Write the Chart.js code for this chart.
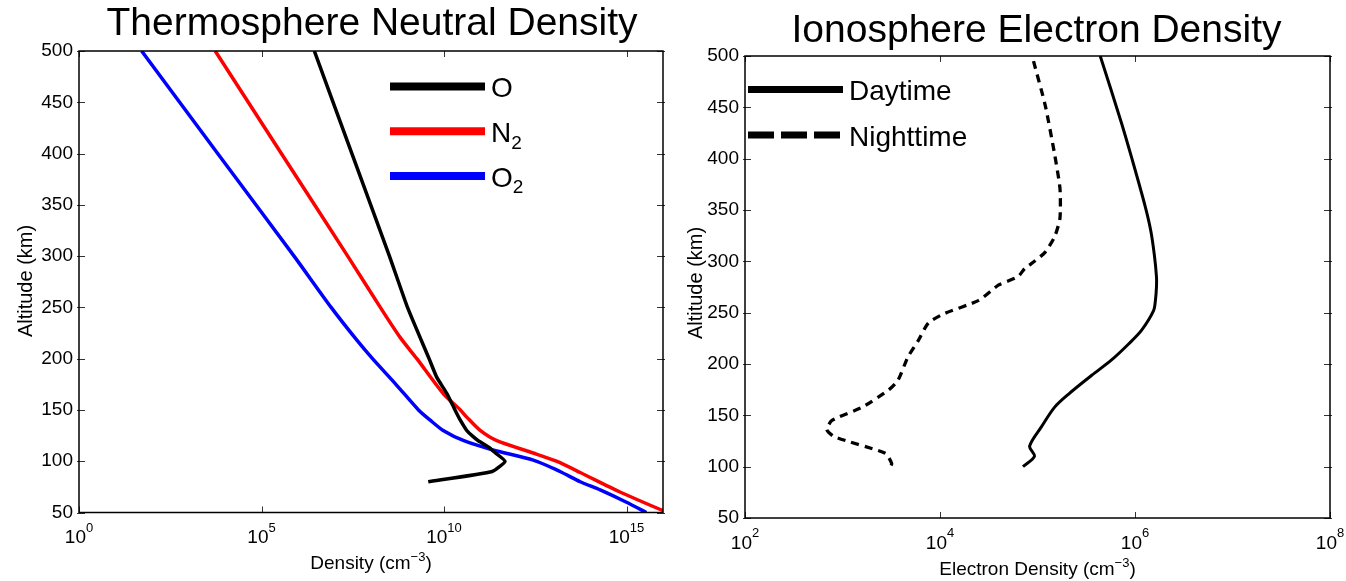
<!DOCTYPE html>
<html>
<head>
<meta charset="utf-8">
<script src="https://cdn.jsdelivr.net/npm/chart.js@4/dist/chart.umd.min.js"></script>
<style>
    body { margin: 0; background: #fff; }
    #wrap { position: relative; width: 1346px; height: 581px; }
    canvas { position: absolute; top: 0; }
</style>
</head>
<body>
<div id="wrap">
    <canvas id="neutralChart" width="673" height="581" style="left:0"></canvas>
    <canvas id="electronChart" width="673" height="581" style="left:673px"></canvas>
</div>
<script>
// thermosphere neutral density (cm^-3) vs altitude (km)
const oAltitude  = [500, 400, 300, 250, 200, 182, 166, 150, 140, 130, 124, 120, 113, 110, 100, 90, 80];
const oDensity   = [2.8e6, 3.0e7, 3.2e8, 1.0e9, 3.9e9, 6.3e9, 1.2e10, 2.0e10, 2.8e10, 4.2e10, 6.3e10, 8.7e10, 1.8e11, 2.2e11, 4.7e11, 2.1e11, 3.7e9];
const n2Altitude = [500, 400, 300, 250, 221, 200, 166, 150, 143, 130, 120, 108, 100, 89, 70, 50];
const n2Density  = [5.4e3, 3.5e5, 2.3e7, 1.8e8, 6.2e8, 1.8e9, 9.5e9, 2.8e10, 4.2e10, 9.8e10, 2.8e11, 2.8e12, 1.2e13, 5.4e13, 6.6e14, 1.3e16];
const o2Altitude = [500, 400, 300, 250, 218, 200, 175, 150, 140, 130, 120, 111, 101, 90, 80, 72, 60, 50];
const o2Density  = [52, 6.3e3, 7.8e5, 8.1e6, 4.1e7, 1.1e8, 4.8e8, 2.0e9, 4.2e9, 9.5e9, 3.5e10, 2.2e11, 2.8e12, 1.5e13, 5.4e13, 1.9e14, 1.0e15, 3.5e15];

// ionosphere electron density (cm^-3) vs altitude (km)
const dayAltitude   = [500, 436, 400, 355, 330, 306, 285, 275, 262, 252, 233, 220, 204, 189, 171, 158, 139, 120, 110, 100];
const dayDensity    = [4.4e5, 7.2e5, 9.3e5, 1.26e6, 1.45e6, 1.58e6, 1.66e6, 1.66e6, 1.62e6, 1.55e6, 1.17e6, 8.7e5, 5.75e5, 3.6e5, 2.1e5, 1.5e5, 1.1e5, 8.3e4, 9.3e4, 7.1e4];
const nightAltitude = [495, 452, 404, 371, 342, 324, 309, 300, 293, 285, 277, 262, 249, 240, 223, 207, 184, 175, 158, 145, 136, 129, 113, 103, 100];
const nightDensity  = [9.1e4, 1.2e5, 1.5e5, 1.7e5, 1.7e5, 1.5e5, 1.2e5, 9.3e4, 7.4e4, 6.3e4, 4.0e4, 2.5e4, 1.1e4, 7.6e3, 6.0e3, 4.7e3, 3.7e3, 3.0e3, 1.6e3, 780, 690, 830, 2.75e3, 3.2e3, 3.1e3];

const altitudeTicks        = [50, 100, 150, 200, 250, 300, 350, 400, 450, 500];
const neutralDensityTicks  = [1e0, 1e5, 1e10, 1e15];
const electronDensityTicks = [1e2, 1e4, 1e6, 1e8];

const FONT = '"Liberation Sans", Arial, Helvetica, sans-serif';

function toPoints(alts, dens) {
    return alts.map((a, i) => ({x: dens[i], y: a}));
}

// text with ^{..} and _{..} parts
function richText(ctx, text, x, y, size, align, supShift) {
    let parts = [];
    let re = /(\^|_)\{([^}]*)\}/g;
    let last = 0, m;
    while ((m = re.exec(text))) {
        if (m.index > last) parts.push({t: text.slice(last, m.index), k: ''});
        parts.push({t: m[2], k: m[1]});
        last = re.lastIndex;
    }
    if (last < text.length) parts.push({t: text.slice(last), k: ''});

    let small = Math.round(size * 0.68);
    let width = 0;
    parts.forEach(p => {
        ctx.font = (p.k ? small : size) + 'px ' + FONT;
        p.w = ctx.measureText(p.t).width;
        width += p.w;
    });
    let cx = align === 'center' ? x - width / 2 : (align === 'right' ? x - width : x);
    ctx.textAlign    = 'left';
    ctx.textBaseline = 'alphabetic';
    parts.forEach(p => {
        ctx.font = (p.k ? small : size) + 'px ' + FONT;
        let dy = p.k === '^' ? -size * supShift : (p.k === '_' ? size * 0.24 : 0);
        ctx.fillText(p.t, cx, y + dy);
        cx += p.w;
    });
}

function axesPlugin(cfg) {
    return {
        id: 'matlabAxes',
        afterDraw(chart) {
            const ctx  = chart.ctx;
            const area = chart.chartArea;
            const xs   = chart.scales.x;
            const ys   = chart.scales.y;
            ctx.save();
            ctx.fillStyle = '#000';

            // tick marks
            ctx.strokeStyle = '#333';
            ctx.lineWidth   = 1;
            ctx.beginPath();
            cfg.xTicks.forEach(v => {
                let px = Math.round(xs.getPixelForValue(v)) + 0.5;
                ctx.moveTo(px, area.bottom); ctx.lineTo(px, area.bottom - 6);
                ctx.moveTo(px, area.top);    ctx.lineTo(px, area.top + 6);
            });
            altitudeTicks.forEach(v => {
                let py = Math.round(ys.getPixelForValue(v)) + 0.5;
                ctx.moveTo(area.left - 2, py);  ctx.lineTo(area.left + 6, py);
                ctx.moveTo(area.right + 2, py); ctx.lineTo(area.right - 6, py);
            });
            ctx.stroke();

            // box
            ctx.strokeStyle = '#000';
            ctx.lineWidth   = 1.5;
            ctx.strokeRect(area.left, area.top, area.right - area.left, area.bottom - area.top);

            // tick labels
            ctx.font         = '19px ' + FONT;
            ctx.textAlign    = 'right';
            ctx.textBaseline = 'middle';
            altitudeTicks.forEach(v => {
                ctx.fillText(String(v), area.left - 6, ys.getPixelForValue(v));
            });
            cfg.xTicks.forEach(v => {
                let exp = Math.round(Math.log10(v));
                richText(ctx, '10^{' + exp + '}', xs.getPixelForValue(v), area.bottom + 30.5, 19, 'center', 0.6);
            });

            // titles
            let midX = (area.left + area.right) / 2;
            richText(ctx, cfg.title, midX + cfg.titleDx, cfg.titleY, 39, 'center', 0.45);
            richText(ctx, cfg.xTitle, midX, cfg.xTitleY, 19, 'center', 0.42);
            ctx.save();
            ctx.translate(cfg.yTitleX, cfg.yTitleY);
            ctx.rotate(-Math.PI / 2);
            richText(ctx, 'Altitude (km)', 0, 0, 20, 'center', 0.42);
            ctx.restore();

            // legend
            let lg = cfg.legend;
            chart.data.datasets.forEach((ds, i) => {
                let y = lg.y + i * lg.dy;
                ctx.strokeStyle = ds.borderColor;
                ctx.lineWidth   = lg.lineWidth;
                ctx.setLineDash(ds.borderDash && ds.borderDash.length ? lg.dash : []);
                ctx.beginPath();
                ctx.moveTo(lg.x1, y);
                ctx.lineTo(lg.x2, y);
                ctx.stroke();
                ctx.setLineDash([]);
                richText(ctx, ds.label, lg.textX, y + 10.5, 28, 'left', 0.45);
            });
            ctx.restore();
        }
    };
}

function buildChart(id, datasets, xMin, xMax, padding, cfg) {
    return new Chart(document.getElementById(id), {
        type: 'line',
        data: {datasets: datasets},
        options: {
            responsive: false,
            animation : false,
            layout    : {padding: padding},
            elements  : {point: {radius: 0}, line: {tension: 0, borderCapStyle: 'butt'}},
            scales    : {
                x: {type: 'logarithmic', min: xMin, max: xMax, display: false},
                y: {type: 'linear', min: 50, max: 500, display: false}
            },
            plugins: {legend: {display: false}, title: {display: false}, tooltip: {enabled: false}}
        },
        plugins: [axesPlugin(cfg)]
    });
}

window.onload = function () {
    buildChart('neutralChart', [
        {label: 'O',     data: toPoints(oAltitude, oDensity),   borderColor: '#000000', borderWidth: 3.5, tension: 0.15},
        {label: 'N_{2}', data: toPoints(n2Altitude, n2Density), borderColor: '#ff0000', borderWidth: 3.5, tension: 0.25},
        {label: 'O_{2}', data: toPoints(o2Altitude, o2Density), borderColor: '#0000ff', borderWidth: 3.5, tension: 0.25}
    ], 1, 1e16, {left: 79, right: 10, top: 51, bottom: 68.5}, {
        title  : 'Thermosphere Neutral Density', titleY: 35, titleDx: 1,
        xTitle : 'Density (cm^{\u22123})', xTitleY: 569,
        yTitleX: 31.5, yTitleY: 281,
        xTicks : neutralDensityTicks,
        legend : {x1: 390, x2: 485, y: 86.5, dy: 44.8, textX: 491, lineWidth: 8, dash: []}
    });

    buildChart('electronChart', [
        {label: 'Daytime',   data: toPoints(dayAltitude, dayDensity),     borderColor: '#000000', borderWidth: 3, tension: 0.3},
        {label: 'Nighttime', data: toPoints(nightAltitude, nightDensity), borderColor: '#000000', borderWidth: 3.3, borderDash: [8, 6], tension: 0.2}
    ], 1e2, 1e8, {left: 72, right: 16, top: 56, bottom: 63}, {
        title  : 'Ionosphere Electron Density', titleY: 41.7, titleDx: -1,
        xTitle : 'Electron Density (cm^{\u22123})', xTitleY: 575,
        yTitleX: 28.7, yTitleY: 283,
        xTicks : electronDensityTicks,
        legend : {x1: 75, x2: 170, y: 89.5, dy: 45.6, textX: 176, lineWidth: 7, dash: [26, 7]}
    });
}
</script>
</body>
</html>
